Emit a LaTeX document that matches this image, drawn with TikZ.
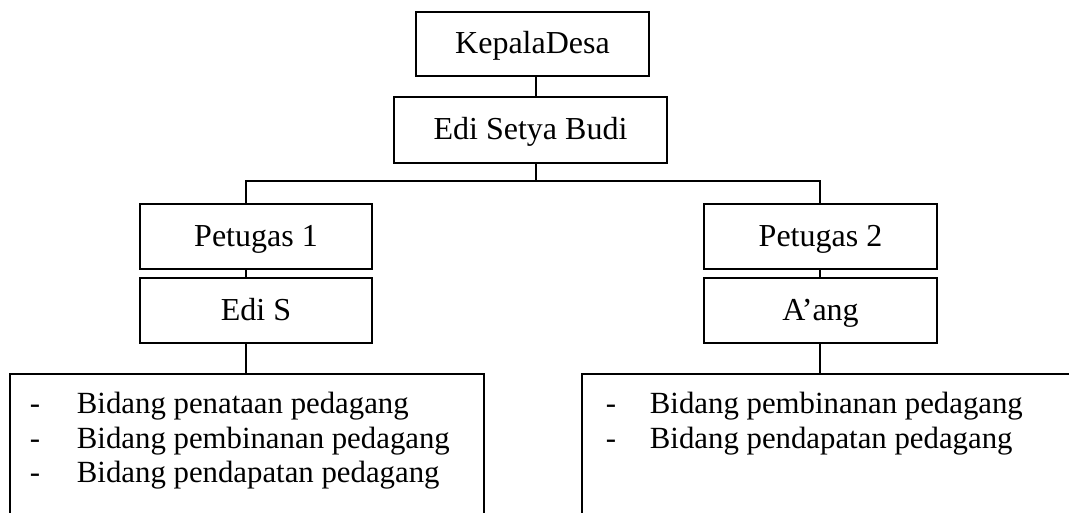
\documentclass[tikz,border=0pt]{standalone}
\usepackage{fontspec}
\setmainfont{Liberation Serif}
\begin{document}
\begin{tikzpicture}[x=1pt,y=-1pt,
  line width=1.9pt,
  orgbox/.style={draw, rectangle, inner sep=0pt, minimum height=65pt,
    text height=22pt, text depth=2pt, font=\fontsize{32}{36}\selectfont},
  listtext/.style={inner sep=0pt, anchor=base west, font=\fontsize{30.8}{35}\selectfont}
]
\useasboundingbox (0,0) rectangle (1069,513);
% boxes
\node[orgbox, minimum width=233pt, minimum height=64pt] (kd) at (532.5,44) {KepalaDesa};
\node[orgbox, minimum width=273pt, minimum height=66pt] (esb) at (530.5,130) {Edi Setya Budi};
\node[orgbox, minimum width=232pt] (p1) at (256,236.5) {Petugas 1};
\node[orgbox, minimum width=232pt] (es) at (256,310.5) {Edi S};
\node[orgbox, minimum width=233pt] (p2) at (820.5,236.5) {Petugas 2};
\node[orgbox, minimum width=233pt] (ang) at (820.5,310.5) {A’ang};
% junction coordinates
\coordinate (c1) at (536,181);
\coordinate (hl) at (246,181);
\coordinate (hr) at (820,181);
\coordinate (lbtop) at (246,374);
\coordinate (rbtop) at (820,374);
% open boxes at the bottom
\coordinate (lb1) at (10,513);
\coordinate (lb2) at (10,374);
\coordinate (lb3) at (484,374);
\coordinate (lb4) at (484,513);
\coordinate (rb1) at (582,513);
\coordinate (rb2) at (582,374);
\coordinate (rb3) at (1069,374);
\draw (lb1) -- (lb2) -- (lb3) -- (lb4);
\draw (rb1) -- (rb2) -- (rb3);
% lists
\node[listtext] (list1) at (29,413) {\begin{tabular}[t]{@{}p{35pt}l@{}}
- & Bidang penataan pedagang\\
- & Bidang pembinanan pedagang\\
- & Bidang pendapatan pedagang
\end{tabular}};
\node[listtext] (list2) at (605,413) {\begin{tabular}[t]{@{}p{32pt}l@{}}
- & Bidang pembinanan pedagang\\
- & Bidang pendapatan pedagang
\end{tabular}};
% connectors
\draw (kd.south -| c1) -- (esb.north -| c1);
\draw (esb.south -| c1) -- (c1);
\draw (p1.north -| hl) -- (hl) -- (hr) -- (p2.north -| hr);
\draw (p1.south -| hl) -- (es.north -| hl);
\draw (es.south -| hl) -- (lbtop);
\draw (p2.south -| hr) -- (ang.north -| hr);
\draw (ang.south -| hr) -- (rbtop);
\end{tikzpicture}
\end{document}
